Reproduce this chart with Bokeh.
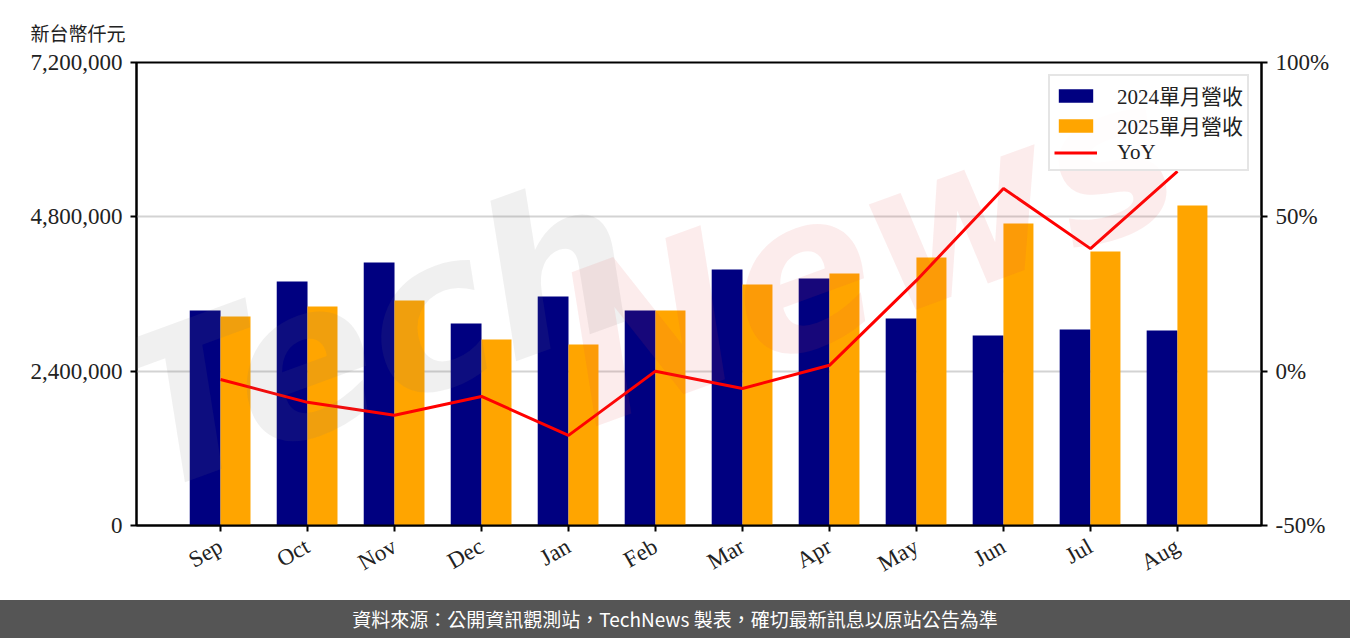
from bokeh.plotting import figure
from bokeh.models import (FactorRange, Range1d, LinearAxis, FixedTicker, NumeralTickFormatter,
                          Legend, LegendItem, Label, ColumnDataSource, Div)
from bokeh.layouts import column
from bokeh.transform import dodge
from bokeh.embed import file_html
from bokeh.resources import INLINE

months = ["Sep", "Oct", "Nov", "Dec", "Jan", "Feb", "Mar", "Apr", "May", "Jun", "Jul", "Aug"]
rev_2024 = [3343000, 3794000, 4090000, 3141000, 3561000, 3343000, 3981000, 3841000, 3219000, 2955000, 3048000, 3032000]
rev_2025 = [3250000, 3406000, 3499000, 2892000, 2815000, 3343000, 3748000, 3919000, 4168000, 4696000, 4261000, 4976000]
yoy = [-2.7, -10.1, -14.3, -8.2, -20.8, 0.0, -5.6, 1.9, 29.4, 59.2, 39.7, 64.7]
left_ticks = [0, 2400000, 4800000, 7200000]
right_ticks = [-50, 0, 50, 100]

SERIF = "Liberation Serif, Noto Sans CJK TC"
CJK = "Noto Sans CJK TC"

src = ColumnDataSource(dict(m=months, a=rev_2024, b=rev_2025, y=yoy))

p = figure(width=1350, height=600, output_backend="svg", toolbar_location=None,
           x_range=FactorRange(*months, range_padding=0.466, range_padding_units="absolute"),
           y_range=Range1d(0, 7200000),
           min_border_left=136, min_border_right=89, min_border_top=62, min_border_bottom=75)
p.extra_y_ranges = {"yoy": Range1d(-50, 100)}

b1 = p.vbar(x=dodge("m", -0.177, range=p.x_range), top="a", width=0.354, source=src,
            fill_color="#000080", line_color=None)
b2 = p.vbar(x=dodge("m", 0.172, range=p.x_range), top="b", width=0.345, source=src,
            fill_color="#FFA500", line_color=None)
ln = p.line(x="m", y="y", source=src, y_range_name="yoy", line_color="#FF0000", line_width=3)

for ax in [p.xaxis[0], p.yaxis[0]]:
    ax.axis_line_width = 2
    ax.axis_line_color = "black"
    ax.major_tick_line_width = 2
    ax.major_tick_line_color = "black"
    ax.major_tick_out = 6
    ax.major_tick_in = 0
    ax.minor_tick_line_color = None
    ax.major_label_text_font = SERIF
    ax.major_label_text_font_size = "23px"
    ax.major_label_text_color = "#222222"

p.yaxis[0].ticker = FixedTicker(ticks=left_ticks)
p.yaxis[0].formatter = NumeralTickFormatter(format="0,0")
p.yaxis[0].major_label_standoff = 8
p.xaxis[0].major_label_orientation = 0.52
p.xaxis[0].major_label_standoff = 13

ra = LinearAxis(y_range_name="yoy", ticker=FixedTicker(ticks=right_ticks),
                major_label_overrides={t: f"{t}%" for t in right_ticks})
ra.axis_line_width = 2
ra.major_tick_line_width = 2
ra.major_tick_out = 6
ra.major_tick_in = 0
ra.minor_tick_line_color = None
ra.major_label_text_font = SERIF
ra.major_label_text_font_size = "23px"
ra.major_label_text_color = "#222222"
ra.major_label_standoff = 8
p.add_layout(ra, "right")

p.xgrid.grid_line_color = None
p.ygrid.ticker = FixedTicker(ticks=left_ticks)
p.ygrid.grid_line_color = "#d3d3d3"
p.ygrid.grid_line_width = 2
p.outline_line_color = "black"
p.outline_line_width = 2
p.outline_line_alpha = 1

# unit label as title
p.title.text = "新台幣仟元"
p.title.align = "left"
p.title.offset = -106
p.title.text_font = CJK
p.title.text_font_size = "19px"
p.title.text_font_style = "normal"
p.title.text_color = "#222222"
p.title.standoff = 30
p.title.vertical_align = "top"

wm1 = Label(x=239, y=190, x_units="screen", y_units="screen", text="Tech", angle=0.35,
            text_align="center", text_baseline="middle", text_font="DejaVu Sans",
            text_font_style="bold italic", text_font_size="210px", text_color="#777777", text_alpha=0.11)
wm2 = Label(x=730, y=275, x_units="screen", y_units="screen", text="News", angle=0.35,
            text_align="center", text_baseline="middle", text_font="DejaVu Sans",
            text_font_style="bold italic", text_font_size="210px", text_color="#e04040", text_alpha=0.1)
p.add_layout(wm1)
p.add_layout(wm2)

legend = Legend(items=[LegendItem(label="2024單月營收", renderers=[b1]),
                       LegendItem(label="2025單月營收", renderers=[b2]),
                       LegendItem(label="YoY", renderers=[ln])],
                location="top_right")
legend.label_text_font = SERIF
legend.label_text_font_size = "21px"
legend.label_text_color = "#222222"
legend.glyph_width = 43
legend.glyph_height = 17
legend.label_standoff = 20
legend.label_height = 20
legend.spacing = 0
legend.padding = 4
legend.margin = 12
legend.border_line_color = "#cccccc"
legend.border_line_width = 2
legend.background_fill_alpha = 0.9
p.add_layout(legend)

footer = Div(text="資料來源：公開資訊觀測站，TechNews 製表，確切最新訊息以原站公告為準",
             width=1350, height=38, margin=(0, 0, 0, 0),
             styles={"background-color": "#555555", "color": "white", "text-align": "center",
                     "font-family": "Noto Sans CJK TC", "font-size": "19px", "line-height": "38px",
                     "width": "1350px", "height": "38px"})

layout = column(p, footer, spacing=0)
open("out.html", "w").write(file_html(layout, INLINE))
